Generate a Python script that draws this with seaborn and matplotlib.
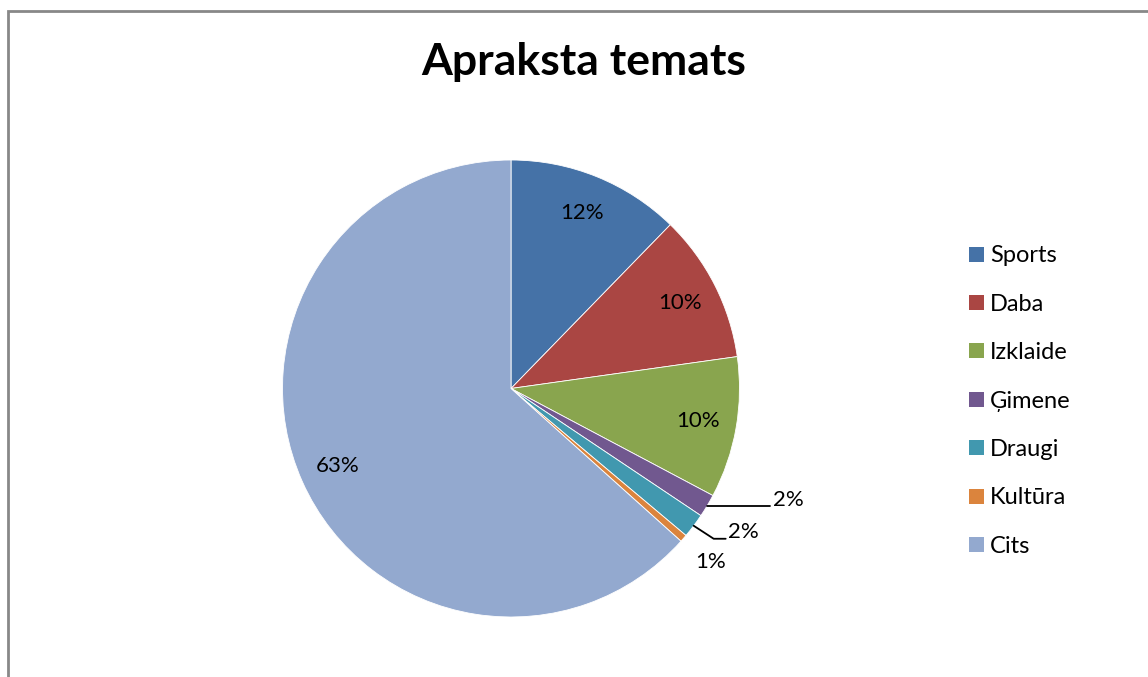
import numpy as np
import matplotlib
matplotlib.use("Agg")
import matplotlib.pyplot as plt
import seaborn as sns
from matplotlib.patches import Rectangle, Patch

categories = ["Sports", "Daba", "Izklaide", "Ģimene", "Draugi", "Kultūra", "Cits"]
values = [12.28, 10.49, 9.99, 1.63, 1.73, 0.53, 63.35]
labels_pct = ["12%", "10%", "10%", "2%", "2%", "1%", "63%"]
colors = ["#4572A7", "#AA4643", "#89A54E", "#71588F", "#4198AF", "#DB843D", "#93A9CF"]

sns.set_theme(style="white")
plt.rcParams['font.family'] = ['Lato', 'DejaVu Sans']
plt.rcParams['text.color'] = 'black'

W, H = 1148, 677
fig = plt.figure(figsize=(W / 100, H / 100), dpi=100)

# pie geometry in pixels
cx, cy, R = 511, 388.5, 228.5
xl, yl = 1.4, 1.2
ax = fig.add_axes([(cx - xl * R) / W, (H - cy - yl * R) / H, 2 * xl * R / W, 2 * yl * R / H])

wedges, _ = ax.pie(values, colors=sns.color_palette(colors), startangle=90, counterclock=False,
                   radius=1, wedgeprops=dict(edgecolor="white", linewidth=0.6))
ax.set_xlim(-xl, xl)
ax.set_ylim(-yl, yl)
ax.set_aspect("auto")
ax.axis("off")

lab_fs = 16
for i, w in enumerate(wedges):
    mid = np.deg2rad((w.theta1 + w.theta2) / 2)
    c, s = np.cos(mid), np.sin(mid)
    if i in (0, 1, 2, 6):
        ax.text(0.83 * c, 0.83 * s, labels_pct[i], ha="center", va="center", fontsize=lab_fs, color="black")
    elif i == 3:
        x0, y0 = c, s
        x1 = x0 + 63 / R
        ax.plot([x0, x1], [y0, y0], color="black", lw=1.3)
        ax.text(x1 + 3 / R, y0 + 6 / R, labels_pct[i], ha="left", va="center", fontsize=lab_fs, color="black")
    elif i == 4:
        x0, y0 = c, s
        x1, y1 = x0 + 20 / R, y0 - 13 / R
        x2 = x1 + 12 / R
        ax.plot([x0, x1, x2], [y0, y1, y1], color="black", lw=1.3)
        ax.text(x2 + 2 / R, y1 + 7 / R, labels_pct[i], ha="left", va="center", fontsize=lab_fs, color="black")
    else:
        ax.text(1.156 * c, 1.156 * s, labels_pct[i], ha="center", va="center", fontsize=lab_fs, color="black")

fig.text(584 / W, 1 - 62 / H, "Apraksta temats", ha="center", va="center", fontsize=32,
         fontweight="bold", color="black")

handles = [Patch(facecolor=col, edgecolor="none") for col in colors]
leg = fig.legend(handles, categories, loc="upper left", bbox_to_anchor=(960 / W, 1 - 236 / H), frameon=False,
                 fontsize=17, handlelength=0.6, handleheight=0.6, handletextpad=0.28, labelspacing=1.16,
                 borderaxespad=0)
for t in leg.get_texts():
    t.set_color("black")

fig.add_artist(Rectangle((7.5 / W, -0.05), 1.1, 1 - 11 / H + 0.05, transform=fig.transFigure,
                         fill=False, edgecolor="#888888", linewidth=2))

fig.savefig("out.png", dpi=100)
